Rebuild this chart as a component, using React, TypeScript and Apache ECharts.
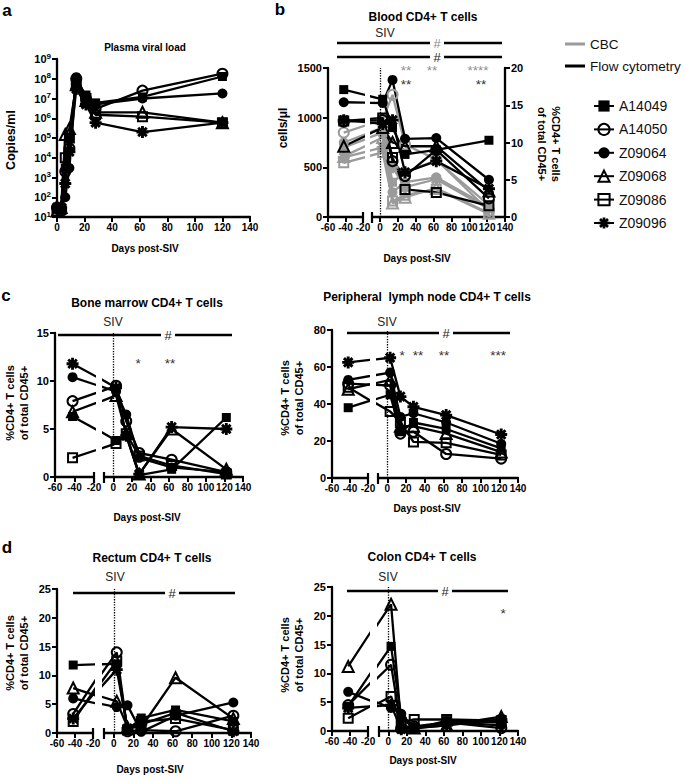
import React, { useEffect, useRef } from "react";
import * as echarts from "echarts";

const NARROW = "'Liberation Sans Narrow', 'Arial Narrow', 'Liberation Sans', Arial, sans-serif";
const SANS = "'Liberation Sans', Arial, sans-serif";

const animals = ["A14049", "A14050", "Z09064", "Z09068", "Z09086", "Z09096"];

// Panel a: plasma viral load (copies/ml)
const vlDays = [0, 3, 6, 9, 14, 21, 28, 62, 120];
const plasmaViralLoad = [
  [25, 25, 3000, 1e5, 8e7, 1.5e7, 6e6, 1.2e7, 1.3e8],
  [30, 20, 2000, 3e4, 1e8, 1e7, 3e6, 2.5e7, 1.8e8],
  [30, 30, 100, 3000, 1.2e8, 1.2e7, 5e6, 1e7, 1.8e7],
  [20, 30, 1.5e5, 3e5, 5e7, 8e6, 2e6, 2e6, 6e5],
  [20, 25, 1e4, 1e5, 6e7, 1e7, 1.5e6, 1.2e6, 6e5],
  [30, 30, 500, 2e4, 3e7, 5e6, 6e5, 2e5, 6e5],
];

// Tissue / blood time points (days post-SIV)
const tissueDays = [-42, 3, 14, 28, 63, 122];

// Panel b: blood CD4+ T cells
const bloodCBC = [
  [700, 850, 350, 450, 570, 120],
  [850, 980, 1230, 730, 580, 60],
  [750, 900, 250, 350, 400, 100],
  [610, 800, 140, 200, 290, 40],
  [545, 650, 160, 220, 280, 30],
  [600, 700, 500, 300, 380, 80],
];
const bloodFlow = [
  [17.1, 15.8, 12.0, 8.4, 9.0, 10.3],
  [12.8, 13.0, 7.5, 5.5, 9.0, 2.5],
  [15.4, 15.3, 18.4, 10.5, 10.6, 5.0],
  [9.5, 12.0, 10.0, 9.5, 9.5, 3.5],
  [12.9, 13.3, 8.0, 3.7, 3.3, 1.5],
  [13.0, 12.5, 13.0, 6.0, 7.5, 3.8],
];

// Panel c
const boneMarrow = [
  [6.3, 3.8, 4.3, 0.2, 0.8, 6.2],
  [7.9, 9.5, 5.8, 2.5, 1.8, 0.5],
  [10.4, 8.9, 6.5, 2.0, 1.0, 0.5],
  [6.8, 8.5, 4.5, 0.3, 5.0, 0.8],
  [2.0, 3.5, 4.5, 2.2, 1.2, 0.3],
  [11.8, 9.3, 4.3, 0.3, 5.2, 5.0],
];
const lymphNode = [
  [38, 45, 25, 30, 26.5, 16],
  [51, 50, 24, 25, 13, 10.5],
  [53, 57, 33, 35, 30, 18.5],
  [48, 53, 28, 28, 24, 14],
  [49, 36, 30, 19.5, 19, 12.5],
  [62.5, 65, 44, 38.5, 34, 23.5],
];

// Panel d
const rectum = [
  [11.8, 12.0, 0.5, 2.6, 4.0, 2.0],
  [3.3, 14.0, 0.3, 0.5, 0.3, 3.0],
  [6.0, 4.5, 4.8, 0.2, 3.0, 5.3],
  [7.8, 5.5, 1.0, 1.0, 9.6, 2.5],
  [2.0, 12.5, 0.5, 2.0, 2.5, 0.5],
  [2.5, 11.0, 0.8, 1.5, 3.5, 0.3],
];
const colon = [
  [4.3, 14.7, 2.5, 0.3, 1.8, 1.5],
  [4.5, 11.5, 0.5, 0.8, 1.5, 0.5],
  [6.8, 4.0, 3.0, 0.5, 1.5, 1.0],
  [11.2, 22.0, 1.0, 0.5, 1.0, 2.5],
  [2.2, 6.0, 1.5, 2.0, 2.0, 1.8],
  [4.0, 4.5, 0.3, 0.5, 1.0, 2.0],
];

const postTicks = [0, 20, 40, 60, 80, 100, 120, 140];

const STAR =
  "path://M-1.2,-5L1.2,-5L1.2,5L-1.2,5Z M-5,-1.2L5,-1.2L5,1.2L-5,1.2Z M-2.7,-4.4L4.4,2.7L2.7,4.4L-4.4,-2.7Z M2.7,-4.4L4.4,-2.7L-2.7,4.4L-4.4,2.7Z";
const SYMBOLS = ["rect", "circle", "circle", "triangle", "rect", STAR];
const SIZES = [9, 10, 10, 11, 9, 12];
const HOLLOW = [false, true, false, true, true, false];
const BLACK = "#000";
const GRAY = "#9b9b9b";

function lineSeries(name: string, k: number, xi: number, yi: number, days: number[], vals: number[], color: string, extra: any = {}) {
  const hollow = HOLLOW[k];
  return {
    type: "line",
    name,
    xAxisIndex: xi,
    yAxisIndex: yi,
    data: days.map((d, i) => [d, vals[i]]),
    symbol: SYMBOLS[k],
    symbolSize: SIZES[k],
    lineStyle: { color, width: 2.3 },
    itemStyle: hollow
      ? { color: "rgba(255,255,255,0)", borderColor: color, borderWidth: 2 }
      : { color, borderColor: color, borderWidth: 0 },
    clip: true,
    silent: true,
    emphasis: { disabled: true },
    animation: false,
    ...extra,
  };
}

const axisLineStyle = { show: true, onZero: false, lineStyle: { color: "#000", width: 2.3 } };
const axisTickStyle = { show: true, length: 5, lineStyle: { color: "#000", width: 2 } };
const tickFont = { fontFamily: NARROW, fontWeight: "bold", fontSize: 11, color: "#000" };
const xTickFont = { fontFamily: NARROW, fontWeight: "bold", fontSize: 10, color: "#000" };

function T(x: number, y: number, text: string, o: any = {}) {
  return {
    type: "text",
    x,
    y,
    rotation: o.rot || 0,
    silent: true,
    style: {
      text,
      fill: o.color || "#000",
      fontSize: o.size || 11,
      fontWeight: o.weight || "bold",
      fontFamily: o.family || NARROW,
      align: "center",
      verticalAlign: "middle",
      lineHeight: o.lh,
    },
  };
}
function L(x1: number, y1: number, x2: number, y2: number, w = 2.2, color = "#000") {
  return { type: "line", silent: true, shape: { x1, y1, x2, y2 }, style: { stroke: color, lineWidth: w } };
}

function buildOption() {
  const gridRects = [
    [57, 59, 250, 217],
    [328, 68, 363, 217],
    [372, 68, 505, 217],
    [55, 333, 94, 477],
    [104, 333, 243, 477],
    [332, 330, 368, 478],
    [378, 330, 518, 478],
    [57, 589, 93, 733],
    [104, 589, 251, 733],
    [332, 587, 368, 731],
    [379, 587, 518, 731],
  ];
  const grid = gridRects.map(([x1, y1, x2, y2]) => ({ left: x1, top: y1, width: x2 - x1, height: y2 - y1, containLabel: false }));

  const rightMin: Record<number, number> = { 2: -9, 4: -10, 6: -10, 8: -10, 10: -10 };
  const xAxis: any[] = gridRects.map((_, i) => {
    const base = {
      type: "value",
      gridIndex: i,
      axisLine: axisLineStyle,
      axisTick: axisTickStyle,
      splitLine: { show: false },
      axisLabel: { ...xTickFont, margin: 5, formatter: (v: number) => String(v) },
    };
    if (i === 0) return { ...base, min: 0, max: 140, interval: 20 };
    if (i % 2 === 1) return { ...base, min: -60, max: -20, interval: 20 };
    return {
      ...base,
      min: rightMin[i],
      max: 140,
      axisTick: { ...axisTickStyle, customValues: postTicks },
      axisLabel: { ...xTickFont, margin: 5, customValues: postTicks, formatter: (v: number) => String(v) },
    };
  });

  const yBase = (gi: number, min: number, max: number, interval: number, show: boolean) => ({
    type: "value",
    gridIndex: gi,
    min,
    max,
    interval,
    show,
    axisLine: axisLineStyle,
    axisTick: axisTickStyle,
    splitLine: { show: false },
    axisLabel: { ...tickFont, margin: 6, formatter: (v: number) => String(v) },
  });

  const yAxis: any[] = [
    {
      type: "log",
      gridIndex: 0,
      min: 10,
      max: 1e9,
      logBase: 10,
      axisLine: axisLineStyle,
      axisTick: axisTickStyle,
      splitLine: { show: false },
      axisLabel: {
        margin: 6,
        formatter: (v: number) => `{b|10}{s|${Math.round(Math.log10(v))}}`,
        rich: {
          b: { fontFamily: NARROW, fontWeight: "bold", fontSize: 11, color: "#000", lineHeight: 14 },
          s: { fontFamily: NARROW, fontWeight: "bold", fontSize: 8, color: "#000", lineHeight: 8, verticalAlign: "top" },
        },
      },
    },
    yBase(1, 0, 1500, 500, true),
    yBase(2, 0, 1500, 500, false),
    yBase(3, 0, 15, 5, true),
    yBase(4, 0, 15, 5, false),
    yBase(5, 0, 80, 20, true),
    yBase(6, 0, 80, 20, false),
    yBase(7, 0, 25, 5, true),
    yBase(8, 0, 25, 5, false),
    yBase(9, 0, 25, 5, true),
    yBase(10, 0, 25, 5, false),
    yBase(1, 0, 20, 5, false),
    { ...yBase(2, 0, 20, 5, true), position: "right" },
  ];

  const dotted = {
    symbol: "none",
    silent: true,
    animation: false,
    label: { show: false },
    lineStyle: { type: "dotted", color: "#000", width: 1.3 },
    data: [{ xAxis: 0 }],
  };

  const series: any[] = [
    { type: "line", name: "CBC", xAxisIndex: 0, yAxisIndex: 0, data: [], symbol: "none", lineStyle: { color: GRAY, width: 3 }, itemStyle: { color: GRAY } },
    { type: "line", name: "Flow cytometry", xAxisIndex: 0, yAxisIndex: 0, data: [], symbol: "none", lineStyle: { color: BLACK, width: 3 }, itemStyle: { color: BLACK } },
  ];

  animals.forEach((name, k) => {
    series.push(lineSeries(name, k, 0, 0, vlDays, plasmaViralLoad[k], BLACK));
  });

  const tissuePanels: { L: number; R: number; yL: number; yR: number; vals: number[][]; color: string }[] = [
    { L: 1, R: 2, yL: 1, yR: 2, vals: bloodCBC, color: GRAY },
    { L: 1, R: 2, yL: 11, yR: 12, vals: bloodFlow, color: BLACK },
    { L: 3, R: 4, yL: 3, yR: 4, vals: boneMarrow, color: BLACK },
    { L: 5, R: 6, yL: 5, yR: 6, vals: lymphNode, color: BLACK },
    { L: 7, R: 8, yL: 7, yR: 8, vals: rectum, color: BLACK },
    { L: 9, R: 10, yL: 9, yR: 10, vals: colon, color: BLACK },
  ];
  const marked = new Set<number>();
  tissuePanels.forEach((p) => {
    animals.forEach((name, k) => {
      series.push(lineSeries(name, k, p.L, p.yL, tissueDays, p.vals[k], p.color));
      const extra: any = {};
      if (!marked.has(p.R)) {
        marked.add(p.R);
        extra.markLine = dotted;
      }
      series.push(lineSeries(name, k, p.R, p.yR, tissueDays, p.vals[k], p.color, extra));
    });
  });

  const star = (x: number, y: number, s: string, color = "#333") =>
    T(x, y + 3, s, { family: SANS, weight: "normal", size: 13.5, color });
  const siv = (x: number, y: number) => T(x, y, "SIV", { family: SANS, weight: "normal", size: 12, color: "#222" });
  const hash = (x: number, y: number, color = "#222") => T(x, y, "#", { family: SANS, weight: "normal", size: 13, color });
  const brk = (x: number, y: number) => L(x, y - 5, x, y + 6, 2.2);
  const yTitle = "%CD4+ T cells\nof total CD45+";

  const graphic: any[] = [
    // panel letters
    T(7, 10, "a", { family: SANS, size: 17 }),
    T(280, 9, "b", { family: SANS, size: 17 }),
    T(6, 295, "c", { family: SANS, size: 17 }),
    T(7, 547, "d", { family: SANS, size: 17 }),
    // titles
    T(145, 47, "Plasma viral load", { size: 10 }),
    T(423, 17, "Blood CD4+ T cells", { size: 12 }),
    T(147, 303, "Bone marrow CD4+ T cells", { size: 12 }),
    T(427, 297, "Peripheral  lymph node CD4+ T cells", { size: 12 }),
    T(152, 558, "Rectum CD4+ T cells", { size: 12 }),
    T(422, 557, "Colon CD4+ T cells", { size: 12 }),
    // x titles
    T(145, 248, "Days post-SIV", { size: 10 }),
    T(417, 258, "Days post-SIV", { size: 10 }),
    T(147, 517, "Days post-SIV", { size: 10 }),
    T(427, 508, "Days post-SIV", { size: 10 }),
    T(150, 769, "Days post-SIV", { size: 10 }),
    T(423, 760, "Days post-SIV", { size: 10 }),
    // y titles
    T(11, 140, "Copies/ml", { family: SANS, size: 12.5, rot: Math.PI / 2 }),
    T(283, 128, "cells/\u03bcl", { family: SANS, size: 12, rot: Math.PI / 2 }),
    T(549, 144, yTitle, { family: SANS, size: 11, lh: 14, rot: -Math.PI / 2 }),
    T(17, 403, yTitle, { family: SANS, size: 11, lh: 14, rot: Math.PI / 2 }),
    T(292, 398, yTitle, { family: SANS, size: 11, lh: 14, rot: Math.PI / 2 }),
    T(17, 653, yTitle, { family: SANS, size: 11, lh: 14, rot: Math.PI / 2 }),
    T(292, 655, yTitle, { family: SANS, size: 11, lh: 14, rot: Math.PI / 2 }),
    // axis breaks
    brk(363, 217), brk(372, 217),
    brk(94, 477), brk(104, 477),
    brk(368, 478), brk(378, 478),
    brk(93, 733), brk(104, 733),
    brk(368, 731), brk(379, 731),
    // panel b annotations
    siv(385, 33),
    L(337, 43, 430, 43, 2.4), L(444, 43, 502, 43, 2.4), hash(437, 43, "#8a8a8a"),
    L(337, 57, 430, 57, 2.4), L(444, 57, 502, 57, 2.4), hash(437, 57),
    star(406, 67, "**", "#8f8f8f"), star(432, 67, "**", "#8f8f8f"), star(478, 67, "****", "#8f8f8f"),
    star(406, 81, "**"), star(481, 81, "**"),
    // bone marrow
    siv(113, 322),
    L(58, 335, 161, 335, 2.4), L(175, 335, 232, 335, 2.4), hash(168, 335),
    star(138, 360, "*"), star(170, 360, "**"),
    // lymph node
    siv(387, 322),
    L(347, 333, 439, 333, 2.4), L(453, 333, 510, 333, 2.4), hash(446, 333),
    star(402, 352, "*"), star(418, 352, "**"), star(444, 352, "**"), star(498, 352, "***"),
    // rectum
    siv(115, 577),
    L(73, 593, 165, 593, 2.4), L(179, 593, 235, 593, 2.4), hash(172, 593),
    // colon
    siv(388, 577),
    L(347, 591, 438, 591, 2.4), L(452, 591, 508, 591, 2.4), hash(445, 591),
    star(503, 610, "*"),
  ];

  const legendText = { fontFamily: SANS, fontSize: 14, color: "#111" };
  const legend = [
    {
      data: [
        { name: "CBC", icon: "rect" },
        { name: "Flow cytometry", icon: "rect" },
      ],
      orient: "vertical",
      left: 560,
      top: 32,
      itemWidth: 20,
      itemHeight: 3,
      itemGap: 8,
      selectedMode: false,
      textStyle: { ...legendText, fontSize: 13.5 },
    },
    {
      data: animals,
      orient: "vertical",
      left: 588,
      top: 94,
      itemWidth: 20,
      itemHeight: 14,
      itemGap: 9.4,
      selectedMode: false,
      textStyle: legendText,
    },
  ];

  return {
    animation: false,
    backgroundColor: "#fff",
    grid,
    xAxis,
    yAxis,
    series,
    legend,
    graphic,
  };
}

export default function App() {
  const ref = useRef<HTMLDivElement>(null);
  useEffect(() => {
    document.body.style.margin = "0";
    const chart = echarts.init(ref.current as HTMLDivElement, null, { renderer: "svg" });
    chart.setOption(buildOption() as any);
    return () => chart.dispose();
  }, []);
  return <div ref={ref} style={{ width: 685, height: 779 }} />;
}
